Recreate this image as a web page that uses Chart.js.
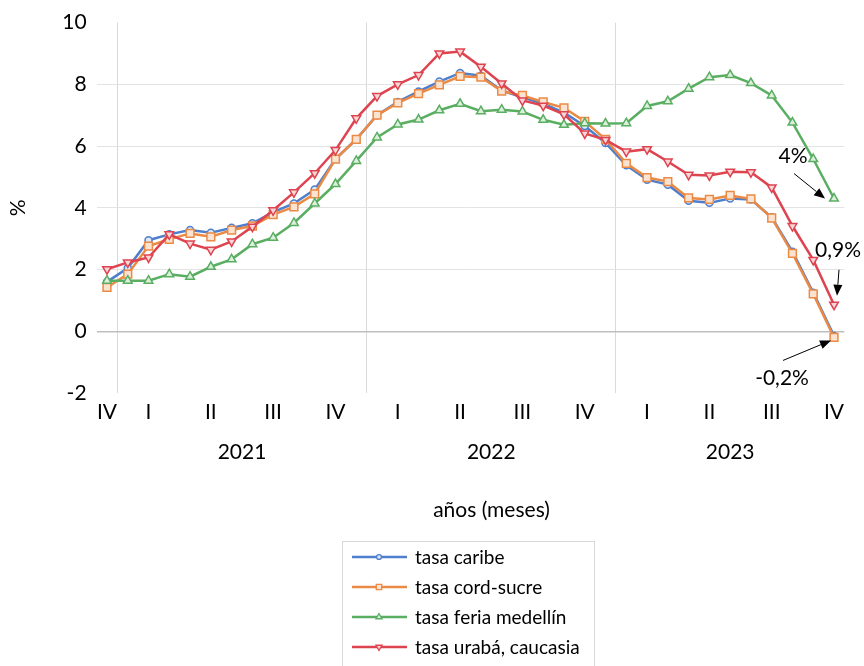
<!DOCTYPE html>
<html lang="es">
<head>
<meta charset="utf-8">
<title>Tasas por región</title>
<script src="https://cdn.jsdelivr.net/npm/chart.js@4.4.1/dist/chart.umd.min.js"></script>
<style>
  html, body { margin: 0; padding: 0; background: #fff; }
  canvas { display: block; }
</style>
</head>
<body>
<canvas id="grafico" width="864" height="666"></canvas>
<script>
// meses: dic 2020 a nov 2023
const meses = [
  'dic 2020',
  'ene 2021', 'feb 2021', 'mar 2021', 'abr 2021', 'may 2021', 'jun 2021',
  'jul 2021', 'ago 2021', 'sep 2021', 'oct 2021', 'nov 2021', 'dic 2021',
  'ene 2022', 'feb 2022', 'mar 2022', 'abr 2022', 'may 2022', 'jun 2022',
  'jul 2022', 'ago 2022', 'sep 2022', 'oct 2022', 'nov 2022', 'dic 2022',
  'ene 2023', 'feb 2023', 'mar 2023', 'abr 2023', 'may 2023', 'jun 2023',
  'jul 2023', 'ago 2023', 'sep 2023', 'oct 2023', 'nov 2023'
];

const trimestres = [
  'IV',
  '', 'I', '', '', 'II', '', '', 'III', '', '', 'IV', '',
  '', 'I', '', '', 'II', '', '', 'III', '', '', 'IV', '',
  '', 'I', '', '', 'II', '', '', 'III', '', '', 'IV'
];

const anios = [
  '',
  '2021', '2021', '2021', '2021', '2021', '2021', '2021', '2021', '2021', '2021', '2021', '2021',
  '2022', '2022', '2022', '2022', '2022', '2022', '2022', '2022', '2022', '2022', '2022', '2022',
  '2023', '2023', '2023', '2023', '2023', '2023', '2023', '2023', '2023', '2023', '2023'
];

const tasaCaribe = [
  1.60,
  2.05, 2.95, 3.14, 3.28, 3.19, 3.35, 3.50, 3.86, 4.14, 4.59, 5.58, 6.22,
  7.00, 7.43, 7.77, 8.09, 8.37, 8.28, 7.80, 7.58, 7.37, 7.08, 6.65, 6.10,
  5.38, 4.91, 4.75, 4.23, 4.16, 4.30, 4.27, 3.69, 2.58, 1.25, -0.15
];

const tasaCordSucre = [
  1.42,
  1.85, 2.76, 2.98, 3.17, 3.06, 3.28, 3.41, 3.78, 4.03, 4.45, 5.58, 6.22,
  7.00, 7.40, 7.70, 7.98, 8.26, 8.23, 7.78, 7.64, 7.43, 7.24, 6.80, 6.22,
  5.44, 4.98, 4.85, 4.32, 4.27, 4.40, 4.29, 3.67, 2.52, 1.21, -0.20
];

const tasaFeriaMedellin = [
  1.64,
  1.64, 1.64, 1.85, 1.77, 2.09, 2.33, 2.82, 3.03, 3.51, 4.14, 4.77, 5.52,
  6.28, 6.70, 6.86, 7.16, 7.37, 7.13, 7.18, 7.12, 6.85, 6.69, 6.74, 6.73,
  6.74, 7.30, 7.45, 7.86, 8.23, 8.30, 8.04, 7.64, 6.76, 5.58, 4.30
];

const tasaUrabaCaucasia = [
  2.01,
  2.23, 2.39, 3.14, 2.84, 2.64, 2.91, 3.39, 3.92, 4.50, 5.12, 5.87, 6.90,
  7.62, 8.00, 8.30, 9.00, 9.06, 8.57, 8.03, 7.48, 7.31, 7.03, 6.41, 6.20,
  5.82, 5.90, 5.50, 5.07, 5.05, 5.17, 5.15, 4.66, 3.41, 2.31, 0.86
];

const FUENTE = 'Lato, "Open Sans", sans-serif';

function serie(label, data, color, relleno, estilo, radio, rotacion, orden) {
  return {
    label,
    data,
    borderColor: color,
    backgroundColor: color,
    borderWidth: 2.5,
    pointStyle: estilo,
    pointRotation: rotacion,
    pointRadius: radio,
    pointBorderWidth: 1.5,
    pointBorderColor: color,
    pointBackgroundColor: relleno,
    tension: 0,
    order: orden,
  };
}

// leyenda en recuadro, en columna, como en el original
const leyendaCaja = {
  id: 'leyendaCaja',
  afterDraw(chart) {
    const ctx = chart.ctx;
    ctx.save();
    ctx.strokeStyle = '#d9d9d9';
    ctx.lineWidth = 1;
    ctx.strokeRect(342.5, 541.5, 252, 130);
    ctx.font = '19px ' + FUENTE;
    ctx.textBaseline = 'middle';
    ctx.textAlign = 'left';
    chart.data.datasets.forEach((ds, i) => {
      const y = 557 + 30 * i;
      ctx.strokeStyle = ds.borderColor;
      ctx.lineWidth = 2.5;
      ctx.beginPath();
      ctx.moveTo(352, y);
      ctx.lineTo(407, y);
      ctx.stroke();
      dibujarMarca(ctx, ds, 379, y, 0.7);
      ctx.fillStyle = '#000';
      ctx.fillText(ds.label, 415, y + 1);
    });
    ctx.restore();
  }
};

function dibujarMarca(ctx, ds, x, y, escala) {
  const r = ds.pointRadius * escala;
  ctx.save();
  ctx.lineWidth = 1.3;
  ctx.strokeStyle = ds.pointBorderColor;
  ctx.fillStyle = ds.pointBackgroundColor;
  ctx.beginPath();
  if (ds.pointStyle === 'circle') {
    ctx.arc(x, y, r, 0, Math.PI * 2);
  } else if (ds.pointStyle === 'rect') {
    const s = r * Math.SQRT1_2;
    ctx.rect(x - s, y - s, 2 * s, 2 * s);
  } else {
    const rot = (ds.pointRotation || 0) * Math.PI / 180;
    for (let k = 0; k < 3; k++) {
      const a = rot - Math.PI / 2 + k * 2 * Math.PI / 3;
      const px = x + Math.cos(a) * r;
      const py = y + Math.sin(a) * r;
      if (k === 0) ctx.moveTo(px, py); else ctx.lineTo(px, py);
    }
    ctx.closePath();
  }
  ctx.fill();
  ctx.stroke();
  ctx.restore();
}

// años centrados bajo sus meses y título del eje x
const etiquetasAnio = {
  id: 'etiquetasAnio',
  afterDraw(chart) {
    const ctx = chart.ctx;
    const x = chart.scales.x;
    const area = chart.chartArea;
    ctx.save();
    ctx.font = '21px ' + FUENTE;
    ctx.fillStyle = '#000';
    ctx.textAlign = 'center';
    ctx.textBaseline = 'middle';
    let inicio = 0;
    for (let i = 1; i <= anios.length; i++) {
      if (i === anios.length || anios[i] !== anios[inicio]) {
        if (anios[inicio]) {
          const cx = (x.getPixelForValue(inicio) + x.getPixelForValue(i - 1)) / 2;
          ctx.fillText(anios[inicio], cx, area.bottom + 59);
        }
        inicio = i;
      }
    }
    ctx.fillText('años (meses)', (area.left + area.right) / 2 + 21, area.bottom + 117);
    ctx.restore();
  }
};

// rótulos con flecha para el último dato
const rotulosFinales = {
  id: 'rotulosFinales',
  afterDraw(chart) {
    const ctx = chart.ctx;
    const ultimo = meses.length - 1;
    const notas = [
      { ds: 2, texto: '4%', tx: -41, ty: -42, desde: [-40, -25], hasta: [-9, 0] },
      { ds: 3, texto: '0,9%', tx: 4, ty: -54, desde: [5, -35], hasta: [3, -9] },
      { ds: 1, texto: '-0,2%', tx: -52, ty: 41, desde: [-51, 23], hasta: [-3, 3] },
    ];
    ctx.save();
    ctx.font = '21px ' + FUENTE;
    ctx.textAlign = 'center';
    ctx.textBaseline = 'middle';
    notas.forEach((n) => {
      const p = chart.getDatasetMeta(n.ds).data[ultimo];
      ctx.fillStyle = '#000';
      ctx.fillText(n.texto, p.x + n.tx, p.y + n.ty);
      const x0 = p.x + n.desde[0], y0 = p.y + n.desde[1];
      const x1 = p.x + n.hasta[0], y1 = p.y + n.hasta[1];
      flecha(ctx, x0, y0, x1, y1);
    });
    ctx.restore();
  }
};

function flecha(ctx, x0, y0, x1, y1) {
  const ang = Math.atan2(y1 - y0, x1 - x0);
  const largo = 11, ancho = 4.5;
  const bx = x1 - Math.cos(ang) * largo;
  const by = y1 - Math.sin(ang) * largo;
  ctx.strokeStyle = '#000';
  ctx.lineWidth = 1;
  ctx.beginPath();
  ctx.moveTo(x0, y0);
  ctx.lineTo(bx, by);
  ctx.stroke();
  ctx.fillStyle = '#000';
  ctx.beginPath();
  ctx.moveTo(x1, y1);
  ctx.lineTo(bx + Math.sin(ang) * ancho, by - Math.cos(ang) * ancho);
  ctx.lineTo(bx - Math.sin(ang) * ancho, by + Math.cos(ang) * ancho);
  ctx.closePath();
  ctx.fill();
}

new Chart(document.getElementById('grafico'), {
  type: 'line',
  data: {
    labels: meses,
    datasets: [
      serie('tasa caribe', tasaCaribe, '#4F7FCC', '#dfe8f7', 'circle', 3.5, 0, 3),
      serie('tasa cord-sucre', tasaCordSucre, '#EB8A45', '#fbe3d2', 'rect', 5.5, 0, 2),
      serie('tasa feria medellín', tasaFeriaMedellin, '#5AAE61', '#dcefdd', 'triangle', 5, 0, 1),
      serie('tasa urabá, caucasia', tasaUrabaCaucasia, '#DE4450', '#f8d6d8', 'triangle', 5, 180, 0),
    ],
  },
  options: {
    responsive: false,
    animation: false,
    layout: {
      padding: { left: 0, right: 19.6, top: 18, bottom: 128 },
    },
    plugins: {
      legend: { display: false },
      tooltip: { enabled: false },
    },
    scales: {
      x: {
        offset: true,
        grid: {
          offset: true,
          drawTicks: false,
          color: (ctx) => ([1, 13, 25].includes(ctx.index) ? '#d9d9d9' : 'rgba(0,0,0,0)'),
        },
        border: { display: false },
        ticks: {
          autoSkip: false,
          maxRotation: 0,
          padding: 6.5,
          color: '#000',
          font: { family: FUENTE, size: 21 },
          callback: (value, index) => trimestres[index],
        },
        afterFit: (scale) => { scale.height = 145; },
      },
      y: {
        min: -2,
        max: 10,
        grid: {
          drawTicks: false,
          lineWidth: (ctx) => (ctx.tick && ctx.tick.value === 0 ? 1.5 : 1),
          color: (ctx) => {
            const v = ctx.tick ? ctx.tick.value : null;
            if (v === 0) return '#bfbfbf';
            if (v > 0 && v < 10) return '#e3e3e3';
            return 'rgba(0,0,0,0)';
          },
        },
        border: { display: false },
        ticks: {
          stepSize: 2,
          padding: 10,
          color: '#000',
          font: { family: FUENTE, size: 21 },
        },
        title: {
          display: true,
          text: '%',
          color: '#000',
          font: { family: FUENTE, size: 21 },
          padding: { top: 6, bottom: 0 },
        },
        afterFit: (scale) => { scale.width = 96.6; },
      },
    },
  },
  plugins: [etiquetasAnio, leyendaCaja, rotulosFinales],
});
</script>
</body>
</html>
